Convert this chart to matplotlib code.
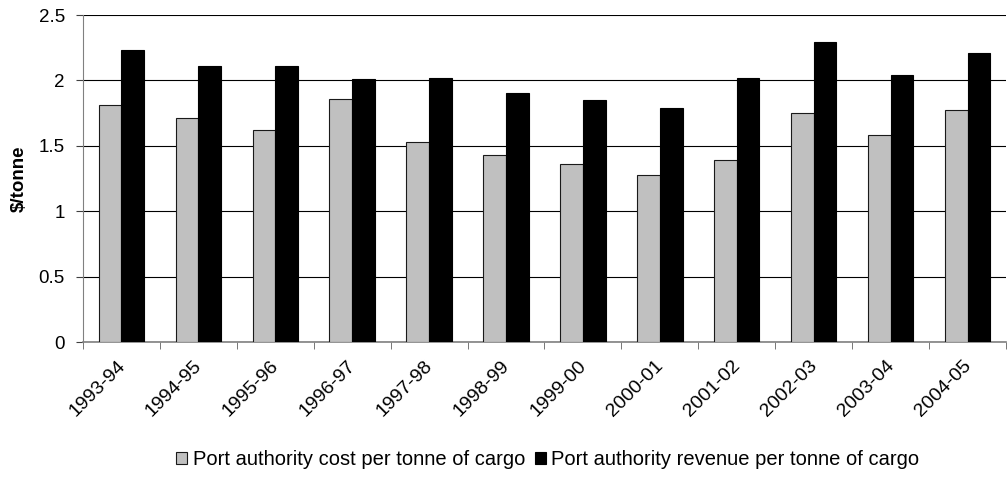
import numpy as np
import matplotlib
matplotlib.use("Agg")
from matplotlib import pyplot as plt
from matplotlib import transforms

plt.rcParams['font.family'] = ['Liberation Sans', 'DejaVu Sans']

years = ['1993-94', '1994-95', '1995-96', '1996-97', '1997-98', '1998-99',
         '1999-00', '2000-01', '2001-02', '2002-03', '2003-04', '2004-05']
cost = [1.81, 1.71, 1.62, 1.86, 1.53, 1.43, 1.36, 1.28, 1.39, 1.75, 1.58, 1.77]
revenue = [2.23, 2.11, 2.11, 2.01, 2.02, 1.90, 1.85, 1.79, 2.02, 2.29, 2.04, 2.21]

fig = plt.figure(figsize=(10.07, 4.78), dpi=100)
ax = fig.add_axes([0.0824, 0.2845, 0.9166, 0.6841])

x = np.arange(len(years))
w = 0.295
ax.bar(x - w / 2, cost, w, color='#C0C0C0', edgecolor='#1a1a1a', linewidth=0.8,
       label='Port authority cost per tonne of cargo', zorder=3)
ax.bar(x + w / 2, revenue, w, color='black', edgecolor='black', linewidth=0.8,
       label='Port authority revenue per tonne of cargo', zorder=3)

ax.set_xlim(-0.5, len(years) - 0.5)
ax.set_ylim(0, 2.5)
ax.set_yticks([0, 0.5, 1, 1.5, 2, 2.5])
ax.set_yticklabels(['0', '0.5', '1', '1.5', '2', '2.5'], fontsize=13.5)
ax.yaxis.grid(True, color='black', linewidth=0.8)
ax.set_axisbelow(True)

ax.set_xticks(x)
ax.set_xticklabels(years, rotation=45, ha='right', rotation_mode='anchor', fontsize=14)
ax.tick_params(axis='x', which='major', length=0, pad=11)
shift = transforms.ScaledTranslation(-5 / 100, 0, fig.dpi_scale_trans)
for lbl in ax.get_xticklabels():
    lbl.set_transform(lbl.get_transform() + shift)
ax.set_xticks(np.arange(-0.5, len(years)), minor=True)
ax.tick_params(axis='x', which='minor', length=5, color='#606060', direction='out')
ax.tick_params(axis='y', length=5, color='#404040', direction='out', pad=8)

for s in ['top', 'right']:
    ax.spines[s].set_visible(False)
ax.spines['left'].set_color('#808080')
ax.spines['bottom'].set_color('#808080')
ax.spines['bottom'].set_linewidth(1.2)

ax.set_ylabel('$/tonne', fontsize=13.5, fontweight='bold')
ax.yaxis.set_label_coords(-0.06, 0.5)

fig.legend(loc='lower center', bbox_to_anchor=(0.544, -0.02), ncol=2, frameon=False,
           fontsize=14.5, handlelength=0.55, handleheight=0.55, handletextpad=0.25,
           columnspacing=0.5)

fig.savefig('out.png', dpi=100)
